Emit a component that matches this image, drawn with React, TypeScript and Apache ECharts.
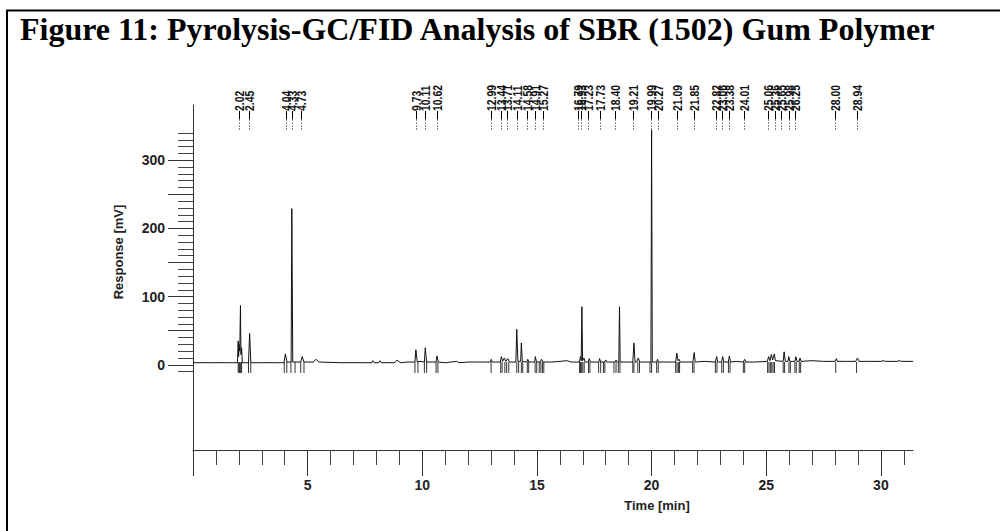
import React, { useEffect, useRef } from "react";
import * as echarts from "echarts";

const TITLE = "Figure 11: Pyrolysis-GC/FID Analysis of SBR (1502) Gum Polymer";
const X_NAME = "Time [min]";
const Y_NAME = "Response [mV]";

const X_MIN = 0;
const X_MAX = 31.4;
const Y_MIN = -125;
const Y_MAX = 381;

const xMinorTicks = [1, 2, 3, 4, 6, 7, 8, 9, 11, 12, 13, 14, 16, 17, 18, 19, 21, 22, 23, 24, 26, 27, 28, 29, 31];
const xMajorTicks = [0, 5, 10, 15, 20, 25, 30];
const xTickLabels = [5, 10, 15, 20, 25, 30];

const yMinorTicks = [-10, 10, 20, 30, 40, 60, 70, 80, 90, 110, 120, 130, 140, 160, 170, 180, 190, 210, 220, 230, 240, 260, 270, 280, 290, 310, 320, 330, 340];
const yMajorTicks = [0, 50, 100, 150, 200, 250, 300];
const yTickLabels = [0, 100, 200, 300];

// chromatogram trace [time (min), response (mV)]
const trace: [number, number][] = [
  [0, 3], [1.0, 3], [1.5, 3], [1.94, 3], [1.97, 35], [1.99, 12], [2.01, 30], [2.04, 20], [2.07, 87], [2.09, 15], [2.12, 25], [2.15, 3],
  [2.42, 3], [2.47, 46], [2.52, 3],
  [3.0, 3], [3.5, 3], [3.97, 3], [4.03, 16], [4.1, 4], [4.28, 4], [4.31, 229], [4.35, 4], [4.7, 4], [4.76, 12], [4.84, 4],
  [5.25, 4], [5.37, 8], [5.5, 4], [6.5, 3], [7.5, 3], [7.8, 3], [7.84, 6], [7.9, 3], [8.1, 3], [8.16, 6], [8.22, 3], [8.8, 3], [8.9, 7], [9.0, 4], [9.1, 3], [9.3, 4],
  [9.68, 4], [9.72, 22], [9.78, 4], [9.9, 5], [10.09, 4], [10.13, 25], [10.19, 4], [10.6, 4], [10.64, 13], [10.7, 4], [11.0, 3], [11.5, 5], [11.6, 3], [12.0, 4], [12.5, 4],
  [12.97, 4], [13.01, 8], [13.05, 4], [13.4, 4], [13.45, 12], [13.5, 5], [13.58, 10], [13.64, 5], [13.73, 9], [13.8, 4],
  [14.08, 4], [14.12, 52], [14.17, 5], [14.29, 5], [14.32, 32], [14.36, 5], [14.56, 4], [14.6, 8], [14.65, 4], [14.9, 4], [14.93, 12], [14.98, 4], [15.15, 4], [15.2, 8], [15.27, 4],
  [15.6, 4], [16.0, 5], [16.3, 6], [16.5, 4], [16.85, 4], [16.9, 12], [16.93, 6], [16.96, 85], [16.99, 6], [17.05, 10], [17.1, 4], [17.24, 4], [17.28, 9], [17.33, 4],
  [17.7, 4], [17.73, 9], [17.78, 4], [17.95, 4], [18.0, 7], [18.05, 4], [18.4, 4], [18.45, 7], [18.5, 4], [18.57, 4], [18.6, 85], [18.63, 4],
  [19.18, 4], [19.23, 32], [19.28, 4], [19.35, 4], [19.42, 10], [19.48, 4], [19.97, 4], [20.0, 344], [20.03, 4], [20.22, 4], [20.26, 8], [20.3, 4], [20.5, 4],
  [21.05, 4], [21.1, 17], [21.15, 6], [21.2, 8], [21.25, 4], [21.8, 4], [21.86, 18], [21.9, 4], [22.3, 5],
  [22.78, 4], [22.84, 12], [22.88, 4], [23.05, 4], [23.1, 12], [23.15, 4], [23.35, 4], [23.39, 13], [23.44, 4], [23.7, 5], [24.0, 4], [24.06, 8], [24.1, 4], [24.5, 4],
  [25.05, 5], [25.1, 12], [25.16, 6], [25.22, 15], [25.28, 7], [25.35, 16], [25.4, 6], [25.74, 5], [25.78, 19], [25.83, 5], [25.95, 5], [25.98, 12], [26.03, 5],
  [26.25, 5], [26.29, 12], [26.34, 5], [26.44, 5], [26.47, 10], [26.52, 5], [27.0, 6], [27.5, 5], [28.0, 5], [28.06, 9], [28.1, 5], [28.5, 5],
  [28.9, 5], [28.98, 10], [29.05, 5], [29.5, 5], [30.0, 5], [30.1, 6], [30.2, 5], [30.7, 5], [30.8, 6], [30.9, 5], [31.4, 5],
];

// integration markers (peak start / end), minutes
const markerTimes = [
  1.97, 2.0, 2.03, 2.06, 2.09, 2.12, 2.42, 2.52, 3.98, 4.09, 4.27, 4.45, 4.7, 4.84,
  9.68, 9.81, 10.09, 10.19, 10.6, 10.68, 13.0, 13.42, 13.48, 13.6, 13.68, 13.77,
  14.12, 14.2, 14.32, 14.38, 14.58, 14.64, 14.92, 14.99, 15.1, 15.17, 15.24, 15.3,
  16.86, 16.9, 16.95, 17.0, 17.06, 17.25, 17.31, 17.69, 17.78, 17.9, 17.96,
  18.36, 18.45, 18.55, 18.62, 19.18, 19.23, 19.4, 19.47, 19.93, 20.0, 20.22, 20.29,
  21.05, 21.11, 21.17, 21.22, 21.79, 21.85, 22.78, 22.85, 23.06, 23.13, 23.35, 23.42,
  24.0, 24.06, 25.06, 25.12, 25.18, 25.24, 25.3, 25.36, 25.74, 25.8, 25.99, 26.05,
  26.25, 26.31, 26.44, 26.5, 28.03, 28.94,
];
const MARKER_TOP = 4;
const MARKER_BOTTOM = -12;

// retention-time labels printed above the peaks
const peakLabels = [
  "2.02", "2.45", "4.04", "4.33", "4.73", "9.73", "10.11", "10.62",
  "12.99", "13.44", "13.71", "14.11", "14.58", "14.91", "15.27",
  "16.79", "16.93", "17.23", "17.73", "18.40", "19.21", "19.99", "20.27",
  "21.09", "21.85", "22.82", "23.06", "23.38", "24.01",
  "25.06", "25.36", "25.65", "25.98", "26.25", "28.00", "28.94",
];

const AXIS_COLOR = "#333";
const SANS = '"Liberation Sans", Arial, sans-serif';

export default function App() {
  const ref = useRef<HTMLDivElement>(null);
  useEffect(() => {
    if (!ref.current) return;
    const chart = echarts.init(ref.current, null, { renderer: "svg" });
    const baseX = {
      type: "value",
      min: X_MIN,
      max: X_MAX,
      position: "bottom",
      splitLine: { show: false },
      axisPointer: { show: false },
    };
    const baseY = {
      type: "value",
      min: Y_MIN,
      max: Y_MAX,
      position: "left",
      splitLine: { show: false },
    };
    const option: any = {
      animation: false,
      backgroundColor: "#fff",
      grid: { left: 193, right: 87, top: 105, bottom: 81, containLabel: false },
      xAxis: [
        {
          ...baseX,
          axisLine: { show: true, onZero: false, lineStyle: { color: AXIS_COLOR, width: 1 } },
          axisTick: { show: true, inside: false, length: 15, customValues: xMinorTicks, lineStyle: { color: "#444" } },
          axisLabel: { show: false },
        },
        {
          ...baseX,
          axisLine: { show: false, onZero: false },
          axisTick: { show: true, inside: false, length: 26, customValues: xMajorTicks, lineStyle: { color: AXIS_COLOR } },
          axisLabel: {
            show: true,
            customValues: xTickLabels,
            margin: 28,
            color: "#222",
            fontFamily: SANS,
            fontWeight: "bold",
            fontSize: 14,
          },
        },
      ],
      yAxis: [
        {
          ...baseY,
          axisLine: { show: true, onZero: false, lineStyle: { color: AXIS_COLOR, width: 1 } },
          axisTick: { show: true, inside: false, length: 15, customValues: yMinorTicks, lineStyle: { color: "#444" } },
          axisLabel: { show: false },
        },
        {
          ...baseY,
          axisLine: { show: false, onZero: false },
          axisTick: { show: true, inside: false, length: 25, customValues: yMajorTicks, lineStyle: { color: AXIS_COLOR } },
          axisLabel: {
            show: true,
            customValues: yTickLabels,
            margin: 28,
            color: "#222",
            fontFamily: SANS,
            fontWeight: "bold",
            fontSize: 14,
          },
        },
      ],
      graphic: [
        {
          type: "rect",
          shape: { x: 7, y: 10.5, width: 1100, height: 600 },
          style: { fill: "none", stroke: "#000", lineWidth: 2 },
          silent: true,
        },
        {
          type: "text",
          x: 20,
          y: 13,
          style: {
            text: TITLE,
            font: 'bold 32px "Liberation Serif"',
            fill: "#000",
            verticalAlign: "top",
            align: "left",
          },
        },
        {
          type: "text",
          x: 118,
          y: 252,
          rotation: Math.PI / 2,
          style: {
            text: Y_NAME,
            font: `bold 13px ${SANS}`,
            fill: "#222",
            align: "center",
            verticalAlign: "middle",
          },
        },
        {
          type: "text",
          x: 657,
          y: 505,
          style: {
            text: X_NAME,
            font: `bold 13px ${SANS}`,
            fill: "#222",
            align: "center",
            verticalAlign: "middle",
          },
        },
      ],
      series: [
        {
          type: "line",
          xAxisIndex: 0,
          yAxisIndex: 0,
          data: trace,
          symbol: "none",
          lineStyle: { color: "#111", width: 1 },
          silent: true,
        },
        {
          type: "custom",
          xAxisIndex: 0,
          yAxisIndex: 0,
          data: markerTimes.map((t) => [t, MARKER_TOP]),
          encode: { x: 0, y: 1 },
          renderItem: (params: any, api: any) => {
            const t = api.value(0);
            const p1 = api.coord([t, MARKER_TOP]);
            const p2 = api.coord([t, MARKER_BOTTOM]);
            return {
              type: "line",
              shape: { x1: p1[0], y1: p1[1], x2: p2[0], y2: p2[1] },
              style: { stroke: "#333", lineWidth: 1 },
            };
          },
          silent: true,
        },
        {
          type: "custom",
          xAxisIndex: 0,
          yAxisIndex: 0,
          data: peakLabels.map((s) => [parseFloat(s), 0, s]),
          encode: { x: 0, y: 1 },
          renderItem: (params: any, api: any) => {
            const t = api.value(0);
            const idx = params.dataIndex;
            const p = api.coord([t, 0]);
            const top = params.coordSys.y;
            const x = Math.round(p[0]) + 0.5;
            return {
              type: "group",
              children: [
                {
                  type: "line",
                  shape: { x1: x, y1: top + 6, x2: x, y2: top + 14 },
                  style: { stroke: "#000", lineWidth: 1 },
                },
                {
                  type: "line",
                  shape: { x1: x, y1: top + 14, x2: x, y2: top + 26 },
                  style: { stroke: "#888", lineWidth: 1, lineDash: [2, 1] },
                },
                {
                  type: "text",
                  x: x,
                  y: top + 6,
                  rotation: Math.PI / 2,
                  scaleX: 0.8,
                  style: {
                    text: peakLabels[idx],
                    x: 0,
                    y: 0,
                    font: `bold 13px ${SANS}`,
                    fill: "#111",
                    align: "left",
                    verticalAlign: "middle",
                  },
                },
              ],
            };
          },
          silent: true,
        },
      ],
    };
    chart.setOption(option);
    return () => chart.dispose();
  }, []);
  return (
    <div
      ref={ref}
      style={{ position: "fixed", left: 0, top: 0, width: 1000, height: 531, background: "#fff" }}
    />
  );
}
